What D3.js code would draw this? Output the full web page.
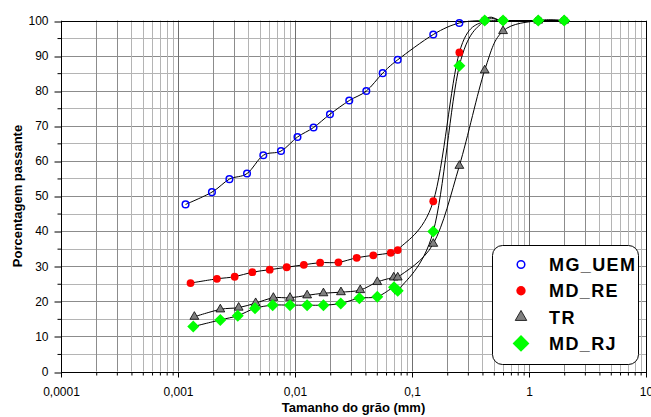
<!DOCTYPE html>
<html lang="pt">
<head>
<meta charset="UTF-8">
<title>Curvas granulométricas</title>
<script src="https://d3js.org/d3.v7.min.js"></script>
<style>
  body { margin: 0; background: #fff; }
  text { font-family: "Liberation Sans", Arial, sans-serif; }
</style>
</head>
<body>
<div id="chart"></div>
<script>
// data (grain size in mm, % passing)
const seriesNames = ["MG_UEM", "MD_RE", "TR", "MD_RJ"];

const mgUemSize = [0.00116, 0.00195, 0.00275, 0.00389, 0.00536, 0.00759, 0.0105, 0.0144, 0.0199, 0.0291, 0.0407, 0.0562, 0.0755, 0.152, 0.254, 0.418, 0.600, 1.20, 2.00];
const mgUemPass = [47.6, 51.1, 54.8, 56.4, 61.6, 62.8, 66.8, 69.5, 73.3, 77.2, 79.9, 85.0, 88.8, 96.0, 99.3, 100, 100, 100, 100];

const mdReSize = [0.00128, 0.00215, 0.00305, 0.00432, 0.00608, 0.00849, 0.0119, 0.0164, 0.0235, 0.0337, 0.0467, 0.0658, 0.0755, 0.152, 0.254, 0.418, 0.600, 1.20, 2.00];
const mdRePass = [25.2, 26.4, 27.0, 28.3, 29.0, 29.7, 30.4, 31.0, 31.1, 32.4, 33.1, 33.8, 34.6, 48.5, 90.9, 100, 100, 100, 100];

const trSize = [0.00138, 0.0023, 0.0033, 0.00461, 0.00653, 0.00906, 0.0127, 0.0175, 0.0247, 0.0361, 0.0505, 0.0698, 0.0755, 0.152, 0.254, 0.418, 0.600, 1.20, 2.00];
const trPass = [15.6, 17.7, 18.2, 19.5, 21.0, 21.0, 21.7, 22.3, 22.6, 23.2, 25.5, 26.8, 26.8, 36.4, 58.6, 85.8, 97.0, 100, 100];

const mdRjSize = [0.00135, 0.0023, 0.00324, 0.00455, 0.00645, 0.00906, 0.0127, 0.0175, 0.0246, 0.0355, 0.0505, 0.0702, 0.0755, 0.152, 0.254, 0.418, 0.600, 1.20, 2.00];
const mdRjPass = [12.8, 14.7, 15.9, 18.0, 18.9, 18.9, 18.9, 18.9, 19.4, 20.9, 21.3, 24.0, 23.0, 39.9, 87.1, 100, 100, 100, 100];

const xTickValues = [0.0001, 0.001, 0.01, 0.1, 1, 10];
const xTickLabels = ["0,0001", "0,001", "0,01", "0,1", "1", "10"];
const yTickValues = [0, 10, 20, 30, 40, 50, 60, 70, 80, 90, 100];

const W = 651, H = 417;
const margin = { top: 20.5, right: 5, bottom: 45.5, left: 61 };

const svg = d3.select("#chart").append("svg")
  .attr("width", W).attr("height", H);

const x = d3.scaleLog().domain([0.0001, 10]).range([margin.left, W - margin.right]);
const y = d3.scaleLinear().domain([0, 100]).range([H - margin.bottom, margin.top]);

// minor values for the log grid
const minorX = [];
for (let e = -4; e < 1; e++) {
  for (let k = 2; k <= 9; k++) minorX.push(k * Math.pow(10, e));
}
const minorY = d3.range(5, 100, 10);

const snap = v => Math.round(v) + 0.5;

// grid
const grid = svg.append("g");
grid.selectAll(".gy5").data(minorY).join("line")
  .attr("x1", x.range()[0]).attr("x2", x.range()[1])
  .attr("y1", d => snap(y(d))).attr("y2", d => snap(y(d)))
  .attr("stroke", "#b4b4b4").attr("stroke-width", 1);
grid.selectAll(".gy").data(yTickValues).join("line")
  .attr("x1", x.range()[0]).attr("x2", x.range()[1])
  .attr("y1", d => snap(y(d))).attr("y2", d => snap(y(d)))
  .attr("stroke", "#8c8c8c").attr("stroke-width", 1);
grid.selectAll(".gx").data(minorX).join("line")
  .attr("x1", d => snap(x(d))).attr("x2", d => snap(x(d)))
  .attr("y1", y.range()[0]).attr("y2", y.range()[1])
  .attr("stroke", d => { const m = Math.round(d / Math.pow(10, Math.floor(Math.log10(d) + 1e-9))); return m <= 3 ? "#8c8c8c" : "#b4b4b4"; })
  .attr("stroke-width", 1);
grid.selectAll(".gxm").data(xTickValues).join("line")
  .attr("x1", d => snap(x(d))).attr("x2", d => snap(x(d)))
  .attr("y1", y.range()[0]).attr("y2", y.range()[1])
  .attr("stroke", "#707070").attr("stroke-width", 1);

// frame
svg.append("rect")
  .attr("x", snap(x.range()[0])).attr("y", snap(y.range()[1]))
  .attr("width", Math.round(x.range()[1] - x.range()[0]))
  .attr("height", Math.round(y.range()[0] - y.range()[1]))
  .attr("fill", "none").attr("stroke", "#000").attr("stroke-width", 1);

// y axis
const yAxis = svg.append("g").attr("transform", `translate(${snap(x.range()[0])},0)`);
yAxis.call(d3.axisLeft(y).tickValues(yTickValues).tickSize(7).tickPadding(6).tickFormat(d3.format("d")));
yAxis.selectAll("line").attr("transform", (d) => `translate(0,${snap(y(d)) - y(d)})`);
yAxis.select(".domain").remove();
yAxis.selectAll("text").attr("font-size", 12).attr("font-family", "Liberation Sans, Arial, sans-serif").attr("fill", "#000");
const yMinorAxis = svg.append("g").attr("transform", `translate(${snap(x.range()[0])},0)`);
yMinorAxis.call(d3.axisLeft(y).tickValues(minorY).tickSize(4).tickFormat(""));
yMinorAxis.select(".domain").remove();

// x axis
const xAxis = svg.append("g").attr("transform", `translate(0,${snap(y.range()[0])})`);
xAxis.call(d3.axisBottom(x).tickValues(xTickValues).tickSize(5).tickPadding(10)
  .tickFormat((d, i) => xTickLabels[i]));
xAxis.select(".domain").remove();
xAxis.selectAll("text").attr("font-size", 12).attr("font-family", "Liberation Sans, Arial, sans-serif").attr("fill", "#000");
const xMinorAxis = svg.append("g").attr("transform", `translate(0,${snap(y.range()[0])})`);
xMinorAxis.call(d3.axisBottom(x).tickValues(minorX).tickSize(3).tickFormat(""));
xMinorAxis.select(".domain").remove();
svg.selectAll(".tick line").attr("stroke", "#000");

// axis titles
svg.append("text")
  .attr("x", 353.5).attr("y", 411.5)
  .attr("text-anchor", "middle")
  .attr("font-size", 13).attr("font-weight", "bold")
  .text("Tamanho do grão (mm)");
svg.append("text")
  .attr("transform", "translate(21.5,196) rotate(-90)")
  .attr("text-anchor", "middle")
  .attr("font-size", 13).attr("font-weight", "bold")
  .text("Porcentagem passante");

// series
const series = [
  { name: seriesNames[0], size: mgUemSize, pass: mgUemPass },
  { name: seriesNames[1], size: mdReSize, pass: mdRePass },
  { name: seriesNames[2], size: trSize, pass: trPass },
  { name: seriesNames[3], size: mdRjSize, pass: mdRjPass }
];

const line = d3.line()
  .x(d => x(d[0])).y(d => y(d[1]))
  .curve(d3.curveCardinal.tension(0));

svg.append("g").selectAll("path").data(series).join("path")
  .attr("d", s => line(s.size.map((v, i) => [v, s.pass[i]])))
  .attr("fill", "none").attr("stroke", "#000").attr("stroke-width", 1);

function drawMarker(g, name, big) {
  const k = big ? 1.3 : 1;
  if (name === "MG_UEM") {
    g.append("circle").attr("r", 3.3 * (big ? 1.15 : 1))
      .attr("fill", "none").attr("stroke", "#0000ff").attr("stroke-width", 1.5);
  } else if (name === "MD_RE") {
    g.append("circle").attr("r", 3.9 * (big ? 1.2 : 1)).attr("fill", "#ff0000");
  } else if (name === "TR") {
    g.append("path").attr("d", d3.symbol(d3.symbolTriangle, 34 * k * k)())
      .attr("fill", "#808080").attr("stroke", "#000").attr("stroke-width", 0.8);
  } else {
    const r = 6 * (big ? 1.4 : 1);
    g.append("path").attr("d", `M0,${-r}L${r},0L0,${r}L${-r},0Z`).attr("fill", "#00ff00");
  }
}

series.forEach(s => {
  const g = svg.append("g");
  s.size.forEach((v, i) => {
    const m = g.append("g").attr("transform", `translate(${x(v)},${y(s.pass[i])})`);
    drawMarker(m, s.name, false);
  });
});

// legend
const legend = svg.append("g").attr("transform", "translate(492.5,245.5)");
legend.append("rect")
  .attr("width", 146).attr("height", 119).attr("rx", 10).attr("ry", 10)
  .attr("fill", "#fff").attr("stroke", "#000").attr("stroke-width", 1);
series.forEach((s, i) => {
  const row = legend.append("g").attr("transform", `translate(28.5,${19 + i * 26.3})`);
  drawMarker(row, s.name, true);
  row.append("text")
    .attr("x", 28).attr("y", 6.5)
    .attr("font-size", 18).attr("font-weight", "bold")
    .attr("letter-spacing", 1.4)
    .text(s.name);
});
</script>
</body>
</html>
